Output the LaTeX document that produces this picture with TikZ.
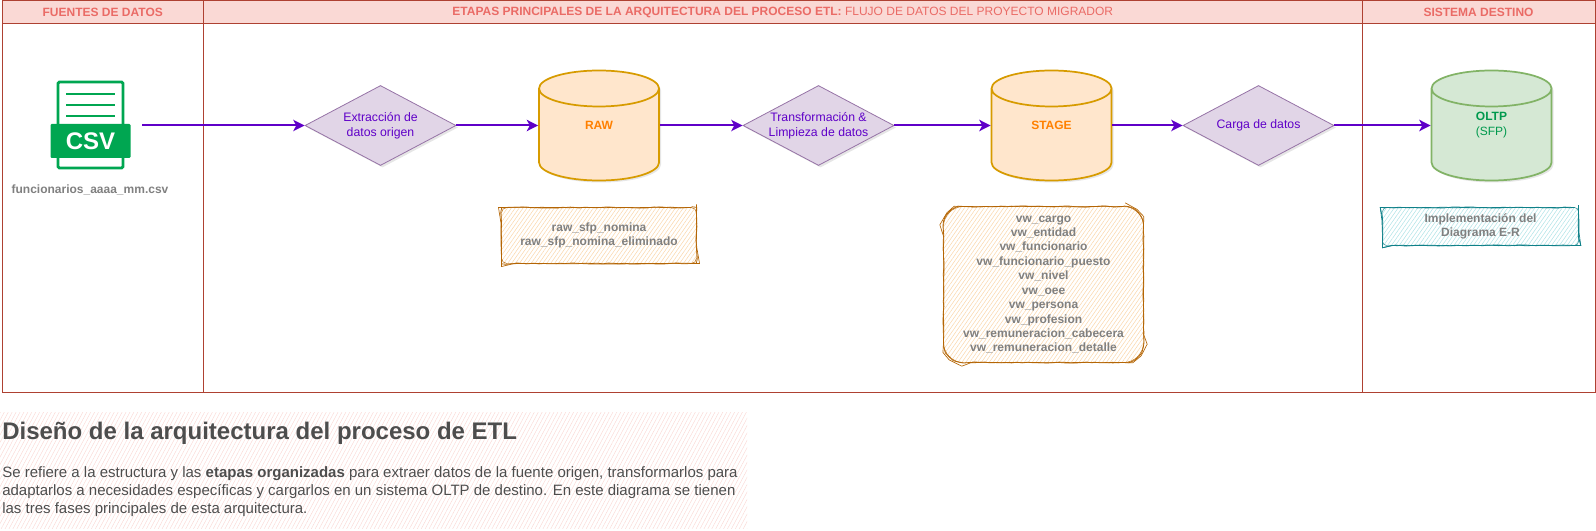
\documentclass[tikz,border=0pt]{standalone}
\usepackage{fontspec}
\setmainfont{Liberation Sans}
\usetikzlibrary{arrows.meta,shapes.geometric,shadows,patterns.meta,decorations.pathmorphing}

\definecolor{lanedraw}{HTML}{AE4132}
\definecolor{lanefill}{HTML}{FAD9D5}
\definecolor{lanetext}{HTML}{EA6B66}
\definecolor{flowcolor}{HTML}{5F00C8}
\definecolor{csvgreen}{HTML}{00A651}
\definecolor{notegray}{HTML}{808080}
\definecolor{panelink}{HTML}{4D4D4D}
\definecolor{stepfill}{HTML}{E1D5E7}
\definecolor{stepdraw}{HTML}{9673A6}
\definecolor{storefill}{HTML}{FFE6CC}
\definecolor{storedraw}{HTML}{D79B00}
\definecolor{storetext}{HTML}{FF8000}
\definecolor{destfill}{HTML}{D5E8D4}
\definecolor{destdraw}{HTML}{82B366}
\definecolor{desttext}{HTML}{00994D}
\definecolor{notedraw}{HTML}{B46504}
\definecolor{notefill}{HTML}{FAD7AC}
\definecolor{tealdraw}{HTML}{0E8088}
\definecolor{tealfill}{HTML}{B0E3E6}

\def\px{.75pt}

\tikzset{
  lanehead/.style={draw=lanedraw, fill=lanefill, text=lanetext, line width=.7pt, inner sep=0pt,
    minimum height=23*\px, font=\fontsize{9}{11}\selectfont\bfseries},
  lanebody/.style={draw=lanedraw, line width=.7pt, inner sep=0pt, minimum height=369*\px},
  stepdiamond/.style={diamond, aspect=1.887, draw=stepdraw, fill=stepfill, inner sep=0pt,
    minimum width=151*\px, minimum height=80*\px, text=flowcolor, align=center, line width=.6pt,
    font=\fontsize{9.2}{11.2}\selectfont, drop shadow={opacity=.2, shadow xshift=1.5pt, shadow yshift=-1.5pt}},
  store/.style={cylinder, shape border rotate=90, aspect=3.24, inner sep=0pt, line width=1.3pt,
    minimum width=120*\px, minimum height=110*\px, anchor=shape center,
    drop shadow={opacity=.2, shadow xshift=1.5pt, shadow yshift=-1.5pt}},
  rawstore/.style={store, draw=storedraw, fill=storefill},
  destinystore/.style={store, draw=destdraw, fill=destfill},
  storelabel/.style={inner sep=0pt, align=center, font=\fontsize{9}{11.2}\selectfont},
  sketchbox/.style={align=center, inner sep=0pt, text=notegray, line width=.35pt,
    font=\fontsize{9}{10.8}\selectfont\bfseries,
    postaction={draw, sharp corners, line width=.6pt, decorate, decoration={random steps, segment length=4pt, amplitude=.3pt}},
    postaction={draw, sharp corners, line width=.5pt, decorate, decoration={random steps, segment length=7pt, amplitude=.5pt}}},
  flow/.style={draw=flowcolor, line width=1.5pt, -{Stealth[length=8.5pt, width=8.5pt, inset=2.2pt]}},
  hatchnote/.style={pattern={Lines[angle=55,distance=2.4pt,line width=.4pt]}}
}

\begin{document}
\begin{tikzpicture}[x=.75pt,y=-.75pt]
\useasboundingbox (0,0) rectangle (1596,531);

% Lanes
\node [lanebody, minimum width=201.5*\px] (bodysrc) at (102.75,208) {};
\node [lanebody, minimum width=1158.5*\px] (bodyetl) at (782.75,208) {};
\node [lanebody, minimum width=233*\px] (bodydst) at (1478.5,208) {};
\node [lanehead, minimum width=201.5*\px] (headsrc) at (102.75,12) {FUENTES DE DATOS};
\node [lanehead, minimum width=1158.5*\px] (headetl) at (782.75,12) {ETAPAS PRINCIPALES DE LA ARQUITECTURA DEL PROCESO ETL: \mdseries FLUJO DE DATOS DEL PROYECTO MIGRADOR};
\node [lanehead, minimum width=233*\px] (headdst) at (1478.5,12) {SISTEMA DESTINO};

% CSV icon
\node [draw=csvgreen, fill=white, line width=2.2pt, rounded corners=1pt, inner sep=0pt,
  minimum width=65*\px, minimum height=86*\px] (csvdoc) at (90.5,125) {};
\foreach \ypos in {94,105,116}
  \draw [csvgreen, line width=2pt] (66,\ypos) -- (115,\ypos);
\node [fill=csvgreen, text=white, rounded corners=.8pt, inner sep=0pt, minimum width=80*\px,
  minimum height=34*\px, font=\fontsize{18}{18}\selectfont\bfseries] (csvband) at (90.5,141) {CSV};
\node [text=notegray, inner sep=0pt, font=\fontsize{9}{11}\selectfont\bfseries] (csvname) at (90,190) {funcionarios\_aaaa\_mm.csv};
\coordinate (csvout) at (142,125.5);

% Steps
\node [stepdiamond] (extract) at (380.5,125.5) {Extracción de\\datos origen};
\node [stepdiamond] (transform) at (818.5,125.5) {Transformación \&\\Limpieza de datos};
\node [stepdiamond] (load) at (1258.5,125.5) {Carga de datos};

% Stores
\node [rawstore] (raw) at (599,125.5) {\phantom{M}};
\node [rawstore] (stage) at (1051.5,125.5) {\phantom{M}};
\node [destinystore] (oltp) at (1491.5,125.5) {\phantom{M}};
\node [storelabel, text=storetext] (rawlabel) at (raw.shape center) {\bfseries RAW};
\node [storelabel, text=storetext] (stagelabel) at (stage.shape center) {\bfseries STAGE};
\node [storelabel, text=desttext] (oltplabel) at (oltp.shape center) {\bfseries OLTP\\(SFP)};

% Notes
\node [sketchbox, hatchnote, draw=notedraw, rounded corners=4pt, pattern color=notefill,
  minimum width=195*\px, minimum height=56*\px] (rawnote) at (599,235.5)
  {raw\_sfp\_nomina\\raw\_sfp\_nomina\_eliminado};
\node [sketchbox, hatchnote, draw=notedraw, rounded corners=15pt, pattern color=notefill,
  minimum width=200*\px, minimum height=156*\px] (stagenote) at (1043.5,284.5)
  {vw\_cargo\\vw\_entidad\\vw\_funcionario\\vw\_funcionario\_puesto\\vw\_nivel\\vw\_oee\\vw\_persona\\vw\_profesion\\vw\_remuneracion\_cabecera\\vw\_remuneracion\_detalle};
\node [sketchbox, hatchnote, draw=tealdraw, rounded corners=3pt, pattern color=tealfill,
  minimum width=196*\px, minimum height=38*\px] (oltpnote) at (1480.5,226.5)
  {Implementación del\\Diagrama E-R};

% Flow
\draw [flow] (csvout) -- (extract.west);
\draw [flow] (extract.east) -- (raw.west |- extract.east);
\draw [flow] (raw.east |- transform.west) -- (transform.west);
\draw [flow] (transform.east) -- (stage.west |- transform.east);
\draw [flow] (stage.east |- load.west) -- (load.west);
\draw [flow] (load.east) -- (oltp.west |- load.east);

% Text panel
\node [pattern={Lines[angle=62,distance=2.6pt,line width=.35pt]}, pattern color=lanefill, inner sep=0pt,
  minimum width=747*\px, minimum height=116*\px] (panel) at (373.5,470) {};
\node [anchor=west, inner sep=0pt, text=panelink, font=\fontsize{18}{21}\selectfont\bfseries] (paneltitle) at (2,433) {Diseño de la arquitectura del proceso de ETL};
\node [anchor=north west, inner sep=0pt, text=panelink, align=left, font=\fontsize{11.25}{13.5}\selectfont] (paneltext) at (2,466)
  {Se refiere a la estructura y las \textbf{etapas organizadas} para extraer datos de la fuente origen, transformarlos para\\
   adaptarlos a necesidades específicas y cargarlos en un sistema OLTP de destino. En este diagrama se tienen\\
   las tres fases principales de esta arquitectura.};
\end{tikzpicture}
\end{document}
